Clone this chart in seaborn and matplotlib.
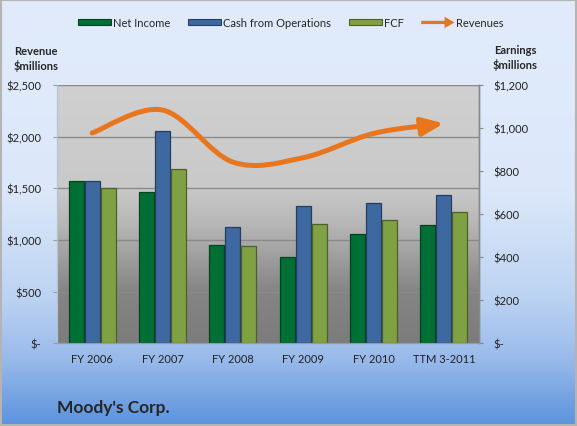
import numpy as np
import pandas as pd
import matplotlib
matplotlib.use("Agg")
import matplotlib.pyplot as plt
import matplotlib.patches as mpatches
from matplotlib.path import Path
from matplotlib.colors import LinearSegmentedColormap, to_rgb
from matplotlib.legend_handler import HandlerPatch
from matplotlib.ticker import FuncFormatter
import seaborn as sns

# Datos
years = ["FY 2006", "FY 2007", "FY 2008", "FY 2009", "FY 2010", "TTM 3-2011"]
revenues = [2037, 2259, 1755, 1797, 2032, 2130]
net_income = [755, 702, 455, 400, 507, 549]
cash_ops = [752, 988, 538, 640, 650, 687]
fcf = [721, 808, 454, 552, 571, 608]

series_names = ["Net Income", "Cash from Operations", "FCF"]
bar_colors = ["#006f35", "#3d68a0", "#80a044"]
line_color = "#e8761d"

df = pd.DataFrame({
    "year": years * 3,
    "serie": [s for s in series_names for _ in years],
    "valor": net_income + cash_ops + fcf,
})

sns.set_style("white")
plt.rcParams["font.family"] = ["Lato", "DejaVu Sans"]

fig = plt.figure(figsize=(5.77, 4.27), dpi=100)

# fondo degradado de la figura
bg = fig.add_axes([0, 0, 1, 1], zorder=-10)
bg_cmap = LinearSegmentedColormap.from_list(
    "bg", [(0, "#5a93dc"), (0.15, "#97b9ea"), (0.3, "#bcd3f2"),
           (0.55, "#dce8fa"), (1, "#e1ebfb")])
bg.imshow(np.linspace(0, 1, 256).reshape(-1, 1), cmap=bg_cmap, aspect="auto",
          origin="lower", extent=[0, 1, 0, 1])
bg.add_patch(mpatches.Rectangle((0.001, 0.002), 0.997, 0.996, fill=False,
                                ec="#b4b4b4", lw=1.5, transform=bg.transAxes))
bg.axis("off")

# eje de ingresos (izquierda)
ax = fig.add_axes([0.0988, 0.194, 0.7314, 0.6042])
plot_cmap = LinearSegmentedColormap.from_list(
    "plot", [(0, "#7c7c7c"), (0.2, "#858585"), (0.45, "#b5b5b5"),
             (0.6, "#c9c9c9"), (1, "#d0d0d0")])
ax.imshow(np.linspace(0, 1, 256).reshape(-1, 1), cmap=plot_cmap, aspect="auto",
          origin="lower", extent=[0, 1, 0, 1], transform=ax.transAxes, zorder=0)

# eje de beneficios (derecha) con las barras
ax2 = ax.twinx()
sns.barplot(data=df, x="year", y="valor", hue="serie", hue_order=series_names,
            palette=bar_colors, width=0.68, gap=0.06, saturation=1,
            legend=False, linewidth=0.9, ax=ax2)
for p in ax2.patches:
    p.set_edgecolor(np.array(to_rgb(p.get_facecolor()[:3])) * 0.6)

# linea suavizada de ingresos con flecha
x = np.arange(len(years))
pts = np.column_stack([x, revenues]).astype(float)
verts = [pts[0]]
codes = [Path.MOVETO]
for i in range(len(pts) - 1):
    p0 = pts[max(i - 1, 0)]
    p1 = pts[i]
    p2 = pts[i + 1]
    p3 = pts[min(i + 2, len(pts) - 1)]
    verts += [p1 + (p2 - p0) / 6, p2 - (p3 - p1) / 6, p2]
    codes += [Path.CURVE4] * 3
flecha = mpatches.FancyArrowPatch(
    path=Path(verts, codes),
    arrowstyle="-|>,head_length=0.65,head_width=0.27",
    mutation_scale=20, color=line_color, lw=3.6, capstyle="round", zorder=3)
ax.add_patch(flecha)

# limites y ticks
ax.set_xlim(-0.5, len(years) - 0.5)
ax.set_ylim(0, 2500)
ax.set_yticks(range(0, 2501, 500))
ax2.set_ylim(0, 1200)
ax2.set_yticks(range(0, 1201, 200))
ax.set_xticks(x, labels=years)

fmt = FuncFormatter(lambda v, p: "$-" if v == 0 else f"${v:,.0f}")
ax.yaxis.set_major_formatter(fmt)
ax2.yaxis.set_major_formatter(fmt)

ax.yaxis.grid(True, color="#8a8a8a", lw=1)
ax.set_axisbelow(True)
ax.tick_params(axis="y", left=True, length=3, color="#9a9a9a", pad=8.5,
               labelsize=8, labelcolor="#222222")
ax.tick_params(axis="x", length=0, pad=7, labelsize=8, labelcolor="#222222")
ax2.tick_params(axis="y", right=True, length=3, color="#888888", pad=7.5,
                labelsize=8, labelcolor="#222222")
ax2.set_xlabel("")
ax2.set_ylabel("")

for a in (ax, ax2):
    a.spines["top"].set_visible(False)
    a.spines["left"].set_color("#b8c2cc")
    a.spines["left"].set_linewidth(0.8)
    a.spines["bottom"].set_color("#9a9a9a")
    a.spines["right"].set_color("#888888")
    a.spines["right"].set_linewidth(1)

# leyenda
class FlechaHandler(HandlerPatch):
    def create_artists(self, legend, orig_handle, xdescent, ydescent, width,
                       height, fontsize, trans):
        f = mpatches.FancyArrow(-xdescent, height / 2 - ydescent, width, 0,
                                width=height * 0.55, head_width=height * 1.9,
                                head_length=width * 0.3,
                                length_includes_head=True,
                                color=orig_handle.get_facecolor(), lw=0)
        f.set_transform(trans)
        return [f]

handles = [mpatches.Patch(fc=c, ec=np.array(to_rgb(c)) * 0.6, lw=0.8)
           for c in bar_colors]
rev_handle = mpatches.Patch(color=line_color)
handles.append(rev_handle)
fig.legend(handles, series_names + ["Revenues"], loc="center",
           bbox_to_anchor=(0.504, 0.944), ncol=4, frameon=False, fontsize=8,
           handlelength=3, handleheight=0.45, handletextpad=0.15,
           columnspacing=1.6, handler_map={rev_handle: FlechaHandler()})

fig.text(36 / 577, 1 - 59 / 427, "Revenue\n$millions", ha="center",
         va="center", fontsize=8, fontweight="bold", linespacing=1.35)
fig.text(515 / 577, 1 - 58 / 427, "Earnings\n$millions", ha="center",
         va="center", fontsize=8, fontweight="bold", linespacing=1.35)
fig.text(57 / 577, 1 - 408 / 427, "Moody's Corp.", ha="left", va="center",
         fontsize=12.5, fontweight="bold")

plt.savefig("out.png", dpi=100)
